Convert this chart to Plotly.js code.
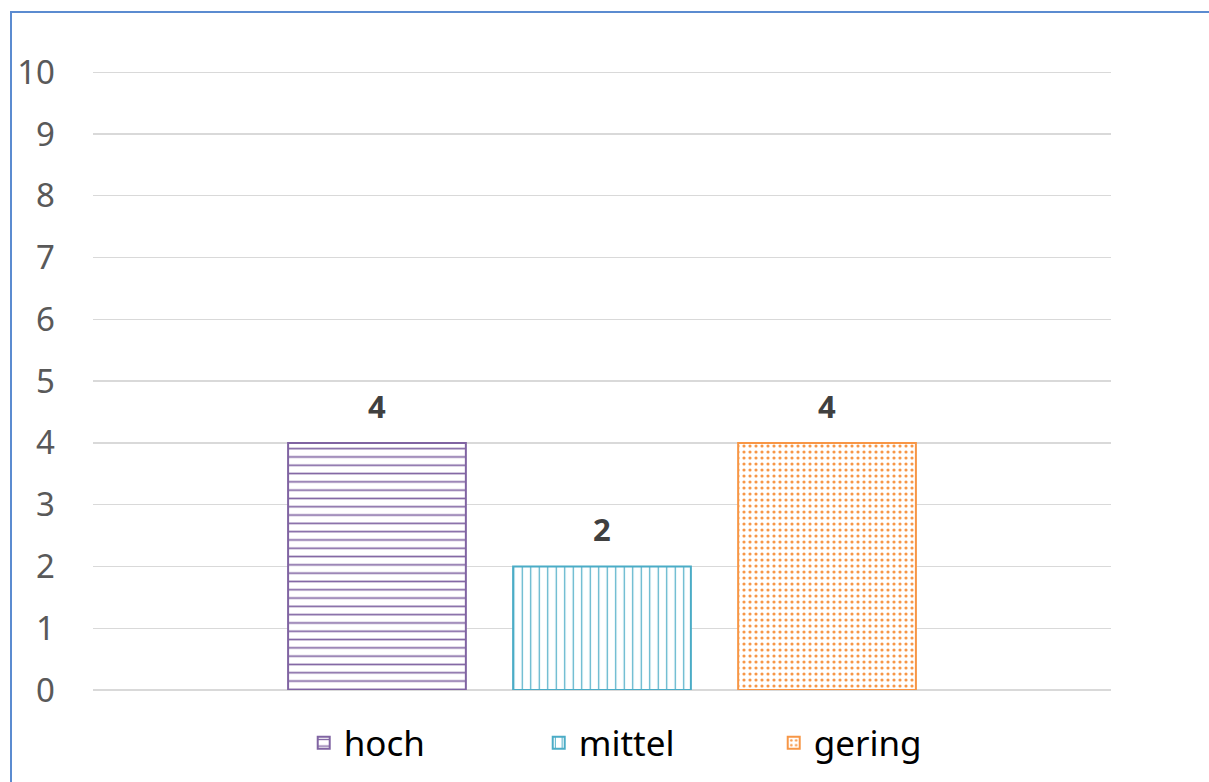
<!DOCTYPE html>
<html>
<head>
<meta charset="utf-8">
<script src="https://cdn.plot.ly/plotly-3.0.1.min.js"></script>
<style>
  html, body { margin: 0; padding: 0; background: #fff; }
  #frame { position: absolute; left: 10px; top: 11px; width: 1250px; height: 800px;
           border-left: 2px solid #5B8BD0; border-top: 2px solid #5B8BD0; box-sizing: border-box; }
  #chart { position: absolute; left: 0; top: 0; width: 1209px; height: 782px; }
</style>
</head>
<body>
<div id="frame"></div>
<div id="chart"></div>
<script>
const categories = ['hoch', 'mittel', 'gering'];
const values = [4, 2, 4];
const colors = ['#8064A2', '#4BACC6', '#F79646'];
const patterns = ['-', '|', '.'];
const patternSizes = [8.3, 8.5, 6];
const patternSolidity = [0.2, 0.14, 0.22];
const yTicks = [0, 1, 2, 3, 4, 5, 6, 7, 8, 9, 10];

const fontFamily = '"Noto Sans", "Open Sans", sans-serif';

const traces = categories.map((c, i) => ({
  type: 'bar',
  name: c,
  x: [c],
  y: [values[i]],
  width: 0.79,
  marker: {
    color: '#ffffff',
    line: { color: colors[i], width: 2 },
    pattern: { shape: patterns[i], fgcolor: colors[i], bgcolor: '#ffffff',
               size: patternSizes[i], solidity: patternSolidity[i], fillmode: 'replace' }
  },
  hoverinfo: 'skip'
}));

const annotations = categories.map((c, i) => ({
  x: c, y: values[i], xref: 'x', yref: 'y',
  text: '<b>' + values[i] + '</b>',
  showarrow: false, yanchor: 'bottom', yshift: 14,
  font: { family: fontFamily, size: 31, color: '#404040' }
}));

const layout = {
  width: 1209, height: 782,
  margin: { l: 93, r: 98, t: 71, b: 92, autoexpand: false },
  paper_bgcolor: 'rgba(0,0,0,0)',
  plot_bgcolor: 'rgba(0,0,0,0)',
  barmode: 'overlay',
  showlegend: true,
  xaxis: {
    type: 'category',
    categoryorder: 'array', categoryarray: categories,
    range: [-1.262, 3.262],
    showticklabels: false, showgrid: false, zeroline: false, showline: false, ticks: ''
  },
  yaxis: {
    range: [0, 10.02],
    tickvals: yTicks,
    ticktext: yTicks.map(String),
    showgrid: true, gridcolor: '#D9D9D9', gridwidth: 1.3,
    zeroline: true, zerolinecolor: '#D9D9D9', zerolinewidth: 1.3,
    showline: false, ticks: '',
    ticklabelstandoff: 37,
    tickfont: { family: fontFamily, size: 33, color: '#595959' }
  },
  legend: {
    orientation: 'h', x: 0.207, xanchor: 'left', y: -0.038, yanchor: 'top',
    font: { family: fontFamily, size: 35, color: '#000000' },
    entrywidth: 190, itemwidth: 30, traceorder: 'normal'
  },
  annotations: annotations
};

Plotly.newPlot('chart', traces, layout, { displayModeBar: false, staticPlot: true });
</script>
</body>
</html>
